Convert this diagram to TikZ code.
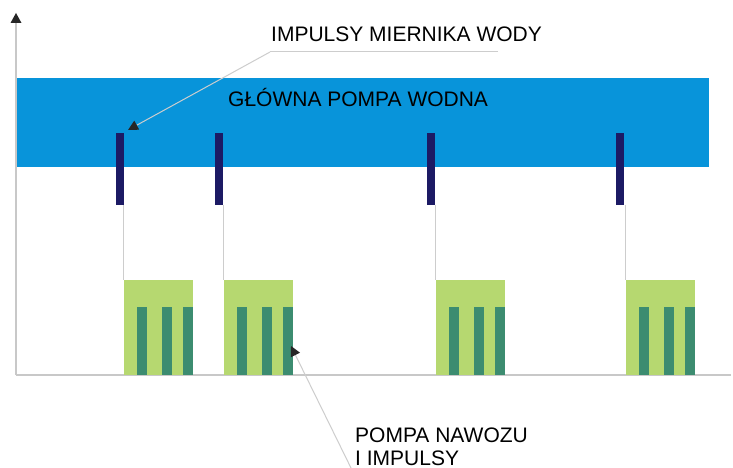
\documentclass[tikz,border=0pt]{standalone}
\usepackage{fontspec}
\setmainfont{Liberation Sans}
\usetikzlibrary{arrows.meta}
\definecolor{bandblue}{RGB}{8,148,218}
\definecolor{navybar}{RGB}{28,26,100}
\definecolor{lightgreen}{RGB}{182,216,112}
\definecolor{stripegreen}{RGB}{60,140,112}
\definecolor{axisgray}{RGB}{200,200,200}
\definecolor{leadergray}{RGB}{205,205,205}
\begin{document}
\begin{tikzpicture}[x=1pt,y=-1pt,
  lbl/.style={font=\fontsize{21}{23}\selectfont, inner sep=0pt, text=black},
  leader/.style={draw=leadergray, line width=1pt},
  tipa/.style={-{Triangle[length=10pt,width=10pt,color=black!85]}},
  axisline/.style={draw=axisgray, line width=1.2pt}]
\useasboundingbox (0,0) rectangle (733,468);
\fill[white] (0,0) rectangle (733,468);
% band
\fill[bandblue] (16,78) rectangle (709,167);
% axes
\coordinate (origin) at (16,375);
\coordinate (ytop) at (16,13);
\coordinate (xend) at (731,375);
\draw[axisline] (origin) -- (16,22);
\draw[axisline] (origin) -- (xend);
\fill[black!85] (ytop) -- (10.5,23) -- (21.5,23) -- cycle;
% pulses
\foreach \bx/\gx in {116/124, 215/224, 427/436, 616/626}{
  \fill[navybar] (\bx,133) rectangle ++(8,72);
  \draw[leadergray, line width=0.8pt] (\gx-0.5,205) -- (\gx-0.5,280);
  \fill[lightgreen] (\gx,280) rectangle ++(69,95);
  \foreach \o in {13,38,59}{
    \fill[stripegreen] (\gx+\o,307) rectangle ++(10,68);
  }
}
% labels
\node[lbl, anchor=base west] (meter) at (271,42) {IMPULSY MIERNIKA WODY};
\node[lbl, anchor=base west] (mainpump) at (228,107) {GŁÓWNA POMPA WODNA};
\node[lbl, anchor=base west] (fert) at (355,442) {POMPA NAWOZU};
\node[lbl, anchor=base west] (fert2) at (355,465) {I IMPULSY};
% leaders
\coordinate (m1) at (498,52);
\coordinate (m2) at (270,52);
\coordinate (mtip) at (128,130);
\draw[leader] (m1) -- (m2);
\draw[leader, tipa] (m2) -- (mtip);
\coordinate (f1) at (352,470);
\coordinate (ftip) at (291,346);
\draw[leader, tipa] (f1) -- (ftip);
\end{tikzpicture}
\end{document}
